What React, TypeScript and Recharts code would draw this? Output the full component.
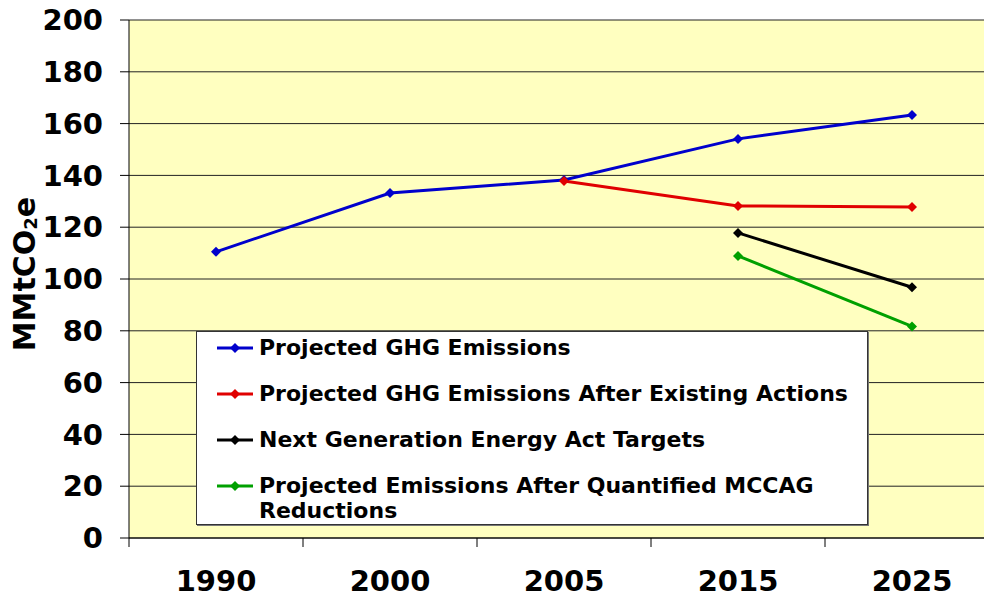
import { CartesianGrid, Legend, Line, LineChart, XAxis, YAxis } from "recharts";

const CATEGORIES = ["1990", "2000", "2005", "2015", "2025"];
const PROJECTED = [110.5, 133.2, 138.2, 154.1, 163.3];
const AFTER_EXISTING = [null, null, 137.8, 128.2, 127.8];
const NGEA_TARGETS = [null, null, null, 117.8, 96.8];
const AFTER_MCCAG = [null, null, null, 108.9, 81.7];
const Y_TICKS = [0, 20, 40, 60, 80, 100, 120, 140, 160, 180, 200];

const SERIES = [
	{ key: "projected", name: "Projected GHG Emissions", color: "#0000CC", values: PROJECTED },
	{ key: "afterExisting", name: "Projected GHG Emissions After Existing Actions", color: "#E00000", values: AFTER_EXISTING },
	{ key: "ngea", name: "Next Generation Energy Act Targets", color: "#000000", values: NGEA_TARGETS },
	{ key: "mccag", name: "Projected Emissions After Quantified MCCAG Reductions", color: "#00A000", values: AFTER_MCCAG },
];

const rows = CATEGORIES.map((year, i) => {
	const row: Record<string, string | number | null> = { year };
	for (const s of SERIES) row[s.key] = s.values[i];
	return row;
});

const FONT = "'DejaVu Sans', Verdana, sans-serif";
const BAND = 174; // width of one category on the x axis

function diamond(color: string) {
	return (props: any) => {
		const { cx, cy, index } = props;
		if (cx == null || cy == null) return <g key={index} />;
		const r = 5;
		return (
			<polygon
				key={index}
				points={`${cx},${cy - r} ${cx + r},${cy} ${cx},${cy + r} ${cx - r},${cy}`}
				fill={color}
				stroke="none"
			/>
		);
	};
}

function XTick(props: any) {
	const { x, y, payload, index } = props;
	const last = index === CATEGORIES.length - 1;
	return (
		<g>
			<line x1={x - BAND / 2} x2={x - BAND / 2} y1={y} y2={y + 9} stroke="#000" />
			{last && <line x1={x + BAND / 2} x2={x + BAND / 2} y1={y} y2={y + 9} stroke="#000" />}
			<text x={x} y={y + 53} textAnchor="middle" fontSize={29} fontWeight={700} fontFamily={FONT} fill="#000">
				{payload.value}
			</text>
		</g>
	);
}

function YLabel(props: any) {
	const { viewBox } = props;
	const cx = viewBox.x + 24;
	const cy = viewBox.y + viewBox.height / 2 - 5;
	return (
		<text
			x={cx}
			y={cy}
			transform={`rotate(-90 ${cx} ${cy})`}
			textAnchor="middle"
			dominantBaseline="central"
			fontSize={30}
			fontWeight={700}
			fontFamily={FONT}
			fill="#000"
		>
			MMtCO
			<tspan fontSize={18} dy={6}>2</tspan>
			<tspan dy={-6}>e</tspan>
		</text>
	);
}

function LegendBox(props: any) {
	const payload = [...(props.payload || [])].sort(
		(a: any, b: any) =>
			SERIES.findIndex((s) => s.name === a.value) - SERIES.findIndex((s) => s.name === b.value),
	);
	return (
		<div
			style={{
				width: 672,
				height: 194,
				boxSizing: "border-box",
				background: "#fff",
				border: "1px solid #333",
				boxShadow: "1px 1px 0 #777",
				padding: "3px 0 0 20px",
				fontFamily: FONT,
				fontWeight: 700,
				fontSize: 22,
				lineHeight: "25px",
				color: "#000",
				textAlign: "left",
			}}
		>
			{payload.map((p: any) => (
				<div key={p.value} style={{ display: "flex", alignItems: "flex-start", marginBottom: 21 }}>
					<svg width={36} height={14} style={{ marginTop: 6, marginRight: 6, flex: "none" }}>
						<line x1={0} x2={36} y1={7} y2={7} stroke={p.color} strokeWidth={3} />
						<polygon points="18,2 23,7 18,12 13,7" fill={p.color} />
					</svg>
					<span style={{ width: 606 }}>{p.value}</span>
				</div>
			))}
		</div>
	);
}

export default function App() {
	return (
		<div style={{ position: "absolute", left: 0, top: 0, width: 984, height: 601, overflow: "hidden", background: "#fff" }}>
			<LineChart width={1010} height={601} data={rows} margin={{ top: 20, right: 11, bottom: 0, left: 0 }}>
				<CartesianGrid horizontal vertical={false} stroke="#222" fill="#FFFFC0" fillOpacity={1} />
				<XAxis
					dataKey="year"
					height={63}
					interval={0}
					padding={{ left: BAND / 2, right: BAND / 2 }}
					tickSize={0}
					tickMargin={0}
					tickLine={false}
					axisLine={{ stroke: "#000" }}
					tick={<XTick />}
				/>
				<YAxis
					domain={[0, 200]}
					ticks={Y_TICKS}
					interval={0}
					width={129}
					tickSize={9}
					tickMargin={17}
					axisLine={{ stroke: "#000" }}
					tickLine={{ stroke: "#000" }}
					tick={{ fill: "#000", fontSize: 29, fontWeight: 700, fontFamily: FONT }}
					label={{ content: YLabel }}
				/>
				<Legend
					layout="horizontal"
					verticalAlign="middle"
					align="center"
					content={LegendBox}
					wrapperStyle={{ position: "absolute", left: 196, top: 331, width: 672, height: 194 }}
				/>
				{SERIES.map((s) => (
					<Line
						key={s.key}
						type="linear"
						dataKey={s.key}
						name={s.name}
						stroke={s.color}
						strokeWidth={3}
						dot={diamond(s.color)}
						activeDot={false}
						isAnimationActive={false}
					/>
				))}
			</LineChart>
		</div>
	);
}
